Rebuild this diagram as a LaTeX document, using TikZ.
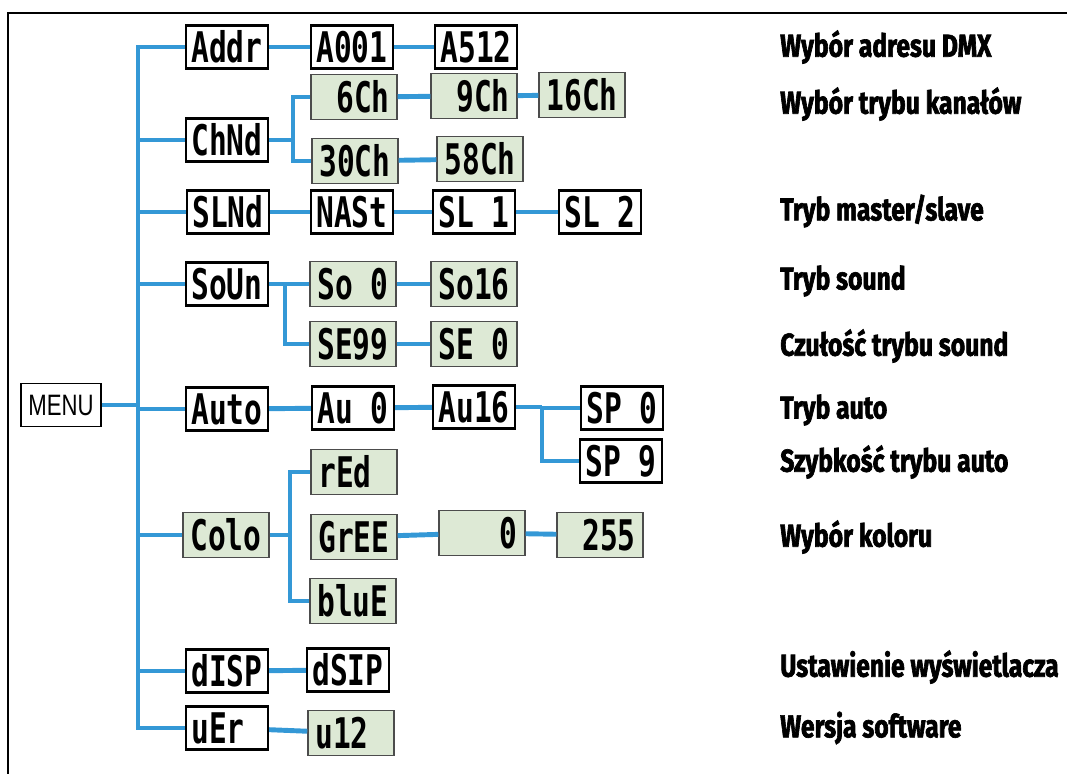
\documentclass[tikz,border=0pt]{standalone}
\usepackage{fontspec}
\setmainfont{Liberation Sans}
\newfontfamily\segfont[FakeStretch=0.7]{DejaVu Sans Mono}
\newfontfamily\menufont[FakeStretch=0.75]{Liberation Sans}
\newfontfamily\lblfont[FakeStretch=0.78,BoldFeatures={FakeBold=2}]{Fira Sans}
\usetikzlibrary{positioning}
\definecolor{linkblue}{RGB}{52,152,214}
\definecolor{lcdgreen}{RGB}{221,233,213}
\newcommand{\segsp}{\phantom{0}}

\begin{document}
\begin{tikzpicture}[x=0.025cm, y=-0.025cm, wbox/.style={draw, line width=1.6pt, fill=white, minimum width=2.05cm, minimum height=1.08cm, inner sep=0pt, font=\segfont\bfseries\fontsize{30}{30}\selectfont}, gbox/.style={wbox, draw=black!70, line width=1pt, fill=lcdgreen, minimum width=2.15cm, minimum height=1.12cm}, lbl/.style={anchor=west, inner sep=0pt, font=\lblfont\bfseries\fontsize{22.5}{26}\selectfont}, link/.style={draw=linkblue, line width=3.5pt}]
\useasboundingbox (0,0) rectangle (1067,774);
\draw[line width=2pt] (8,774) -- (8,13) -- (1067,13);
\node[draw, line width=0.8pt, minimum width=2cm, minimum height=1.08cm, inner sep=0pt, font=\menufont\fontsize{21}{22}\selectfont] (menu) at (61,405) {MENU};
\node[wbox] (addr) at (227,47) {Addr};
\node[wbox] (a001) at (352,47) {A001};
\node[wbox] (a512) at (476,47) {A512};
\node[wbox] (chnd) at (227,140) {ChNd};
\node[gbox] (c6) at (354,97) {\segsp6Ch};
\node[gbox] (c9) at (474,96) {\segsp9Ch};
\node[gbox] (c16) at (582,95) {16Ch};
\node[gbox] (c30) at (355,161) {30Ch};
\node[gbox] (c58) at (480,159) {58Ch};
\node[wbox] (slnd) at (228,212) {SLNd};
\node[wbox] (mast) at (352,212) {NASt};
\node[wbox] (sl1) at (474,212) {SL\segsp1};
\node[wbox] (sl2) at (600,212) {SL\segsp2};
\node[wbox] (soun) at (227,284) {SoUn};
\node[gbox] (so0) at (353,284) {So\segsp0};
\node[gbox] (so16) at (474,284) {So16};
\node[gbox] (se99) at (353,344) {SE99};
\node[gbox] (se0) at (474,344) {SE\segsp0};
\node[wbox] (auto) at (227,409) {Auto};
\node[wbox] (au0) at (353,408) {Au\segsp0};
\node[wbox] (au16) at (474,407) {Au16};
\node[wbox] (sp0) at (622,408) {SP\segsp0};
\node[wbox] (sp9) at (621,461) {SP\segsp9};
\node[gbox] (colo) at (226,535) {Colo};
\node[gbox] (red) at (354,472) {rEd\segsp};
\node[gbox] (gree) at (354,537) {GrEE};
\node[gbox] (c0) at (482,533) {\segsp\segsp\segsp0};
\node[gbox] (c255) at (600,535) {\segsp255};
\node[gbox] (blue) at (353,601) {bluE};
\node[wbox] (disp) at (227,671) {dISP};
\node[wbox] (dsip) at (348,670) {dSIP};
\node[wbox] (ver) at (227,728) {uEr\segsp};
\node[gbox] (v12) at (351,733) {u12\segsp};
\node[lbl] (ladr) at (780,47) {Wybór adresu DMX};
\node[lbl] (lch) at (780,104) {Wybór trybu kanałów};
\node[lbl] (lsl) at (780,211) {Tryb master/slave};
\node[lbl] (lso) at (780,281) {Tryb sound};
\node[lbl] (lse) at (780,346) {Czułość trybu sound};
\node[lbl] (lau) at (780,410) {Tryb auto};
\node[lbl] (lsp) at (780,462) {Szybkość trybu auto};
\node[lbl] (lco) at (780,537) {Wybór koloru};
\node[lbl] (ldi) at (780,667) {Ustawienie wyświetlacza};
\node[lbl] (lve) at (780,728) {Wersja software};
\coordinate (tk) at (138,0); \coordinate (chs) at (293,0); \coordinate (sos) at (285,0); \coordinate (aus) at (542,0); \coordinate (cos) at (290,0);
\draw[link] (addr.west) -| (tk |- ver) -- (ver.west);
\foreach \n in {chnd,slnd,soun,auto,colo,disp} \draw[link] (tk |- \n) -- (\n.west);
\draw[link] (menu.east) -- (tk |- menu);
\draw[link] (addr) -- (a001); \draw[link] (a001) -- (a512);
\draw[link] (chnd.east) -- (chs |- chnd); \draw[link] (c6.west) -| (chs |- c30) -- (c30.west); \draw[link] (c6) -- (c9); \draw[link] (c9) -- (c16); \draw[link] (c30) -- (c58);
\draw[link] (slnd) -- (mast); \draw[link] (mast) -- (sl1); \draw[link] (sl1) -- (sl2);
\draw[link] (soun.east) -- (sos |- soun); \draw[link] (so0.west) -| (sos |- se99) -- (se99.west); \draw[link] (so0) -- (so16); \draw[link] (se99) -- (se0);
\draw[link] (auto) -- (au0); \draw[link] (au0) -- (au16); \draw[link] (au16.east) -- (aus |- au16); \draw[link] (sp0.west) -| (aus |- sp9) -- (sp9.west);
\draw[link] (colo.east) -- (cos |- colo); \draw[link] (red.west) -| (cos |- blue) -- (blue.west); \draw[link] (gree) -- (c0); \draw[link] (c0) -- (c255);
\draw[link] (disp) -- (dsip); \draw[link] (ver) -- (v12);
\end{tikzpicture}
\end{document}
